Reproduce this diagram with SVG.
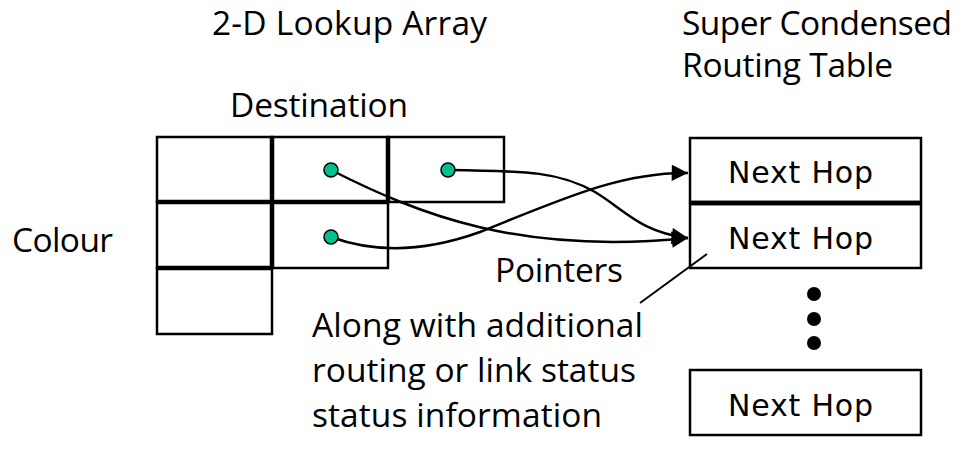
<svg xmlns="http://www.w3.org/2000/svg" width="958" height="450" viewBox="0 0 958 450">
<style>
.t{font-family:"Open Sans","Noto Sans",sans-serif;font-size:33.5px;fill:#000}
.nh{font-family:"DejaVu Sans",sans-serif;font-size:30px;fill:#000}
.cell{fill:#fff;stroke:#000;stroke-width:2.5}
.thick{stroke:#000;stroke-width:4.5;fill:none}
.dot{fill:#00C08B;stroke:#000;stroke-width:1.5}
.ptr{fill:none;stroke:#000;stroke-width:2.5}
.bd{fill:#000}
</style>
<defs>
<marker id="ah" viewBox="0 0 10 10" refX="10" refY="5" markerWidth="7.5" markerHeight="6.5" markerUnits="strokeWidth" orient="auto">
<path d="M0,0 L10,5 L0,10 z" fill="#000"/>
</marker>
</defs>
<rect width="958" height="450" fill="#fff"/>
<g id="labels">
<text class="t" x="212" y="35" textLength="275">2-D Lookup Array</text>
<text class="t" x="230" y="117" textLength="178">Destination</text>
<text class="t" x="12" y="252" textLength="101">Colour</text>
<text class="t" x="682" y="35" textLength="270">Super Condensed</text>
<text class="t" x="682" y="77" textLength="211">Routing Table</text>
<text class="t" x="495" y="282" textLength="128">Pointers</text>
<text class="t" x="312" y="337" textLength="331">Along with additional</text>
<text class="t" x="312" y="382" textLength="324">routing or link status</text>
<text class="t" x="312" y="427" textLength="290">status information</text>
</g>
<g id="array">
<rect class="cell" x="157" y="137" width="115" height="65"/>
<rect class="cell" x="272" y="137" width="116" height="65"/>
<rect class="cell" x="388" y="137" width="116" height="65"/>
<rect class="cell" x="157" y="202" width="115" height="66"/>
<rect class="cell" x="272" y="202" width="116" height="66"/>
<rect class="cell" x="157" y="268" width="115" height="66"/>
<path class="thick" d="M272,137 V268 M388,137 V202 M157,202 H388 M157,268 H272"/>
</g>
<g id="table">
<g id="hop1"><rect class="cell" x="690" y="138" width="231" height="64"/><text class="nh" x="728" y="183" textLength="145">Next Hop</text></g>
<g id="hop2"><rect class="cell" x="690" y="204" width="231" height="64"/><text class="nh" x="728" y="249" textLength="145">Next Hop</text></g>
<path class="thick" d="M690,203 H921"/>
<g id="ellipsis"><circle class="bd" cx="814" cy="294" r="7"/><circle class="bd" cx="814" cy="319" r="7"/><circle class="bd" cx="814" cy="343" r="7"/></g>
<g id="hop3"><rect class="cell" x="690" y="370" width="231" height="65"/><text class="nh" x="728" y="416" textLength="145">Next Hop</text></g>
</g>
<g id="connectors">
<path class="ptr" marker-end="url(#ah)" d="M331,170 C420,215 520,255 688,238"/>
<path class="ptr" marker-end="url(#ah)" d="M448,170 C530,171 560,172 595,192 C625,210 640,232 688,238"/>
<path class="ptr" marker-end="url(#ah)" d="M331,237 C380,255 430,250 480,232 C560,200 620,172 688,173"/>
<path stroke="#000" stroke-width="2" d="M640,303 L707,254"/>
</g>
<g id="pointers">
<circle class="dot" cx="331" cy="170" r="7"/>
<circle class="dot" cx="448" cy="170" r="7"/>
<circle class="dot" cx="331" cy="237" r="7"/>
</g>
</svg>
